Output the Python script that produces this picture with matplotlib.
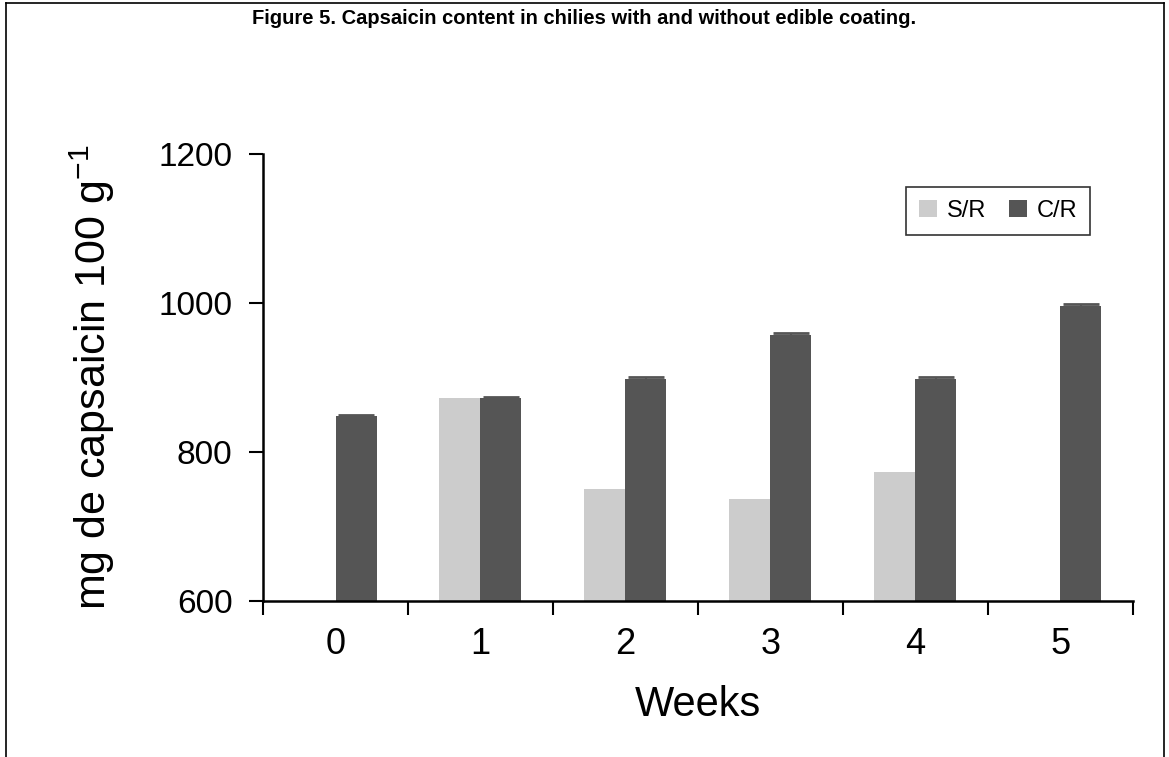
import numpy as np
import matplotlib.pyplot as plt
from matplotlib.lines import Line2D
from matplotlib.ticker import FixedLocator

plt.rcParams['font.family'] = ['Liberation Sans', 'DejaVu Sans']
plt.rcParams['mathtext.default'] = 'regular'

weeks = [0, 1, 2, 3, 4, 5]
sr_values = [np.nan, 872, 750, 737, 773, np.nan]   # S/R, uncoated
cr_values = [848, 872, 898, 957, 898, 996]         # C/R, coated
cr_err = [2, 2, 2, 3, 3, 2]

x = np.arange(len(weeks))
w = 0.283

fig = plt.figure(figsize=(11.69, 7.57), dpi=100)
ax = fig.add_axes([0.225, 0.206, 0.744, 0.591])

sr = np.array(sr_values, dtype=float)
ok = ~np.isnan(sr)
ax.bar(x[ok] - w / 2, sr[ok], w, color='#cccccc', label='S/R')
ax.bar(x + w / 2, cr_values, w, color='#555555', label='C/R',
       yerr=cr_err, error_kw=dict(ecolor='#555555', capsize=13, elinewidth=1.5, capthick=2))

ax.set_ylim(600, 1200)
ax.set_yticks([600, 800, 1000, 1200])
ax.set_xlim(-0.5, 5.5)
ax.set_xticks(x)
ax.set_xticklabels([str(v) for v in weeks])
ax.xaxis.set_minor_locator(FixedLocator(np.arange(-0.5, 6, 1)))
ax.tick_params(axis='x', which='major', length=0, labelsize=26, pad=19)
ax.tick_params(axis='x', which='minor', length=10, width=1.5, direction='out')
ax.tick_params(axis='y', length=10, width=1.5, direction='out', labelsize=24, pad=12)

for s in ['top', 'right']:
    ax.spines[s].set_visible(False)
for s in ['left', 'bottom']:
    ax.spines[s].set_linewidth(1.8)

ax.set_ylabel('mg de capsaicin 100 g$^{-1}$', fontsize=31, labelpad=30)
ax.set_xlabel('Weeks', fontsize=30, labelpad=16)

leg = ax.legend(loc='upper right', bbox_to_anchor=(0.951, 0.926), ncol=2, fontsize=17,
                frameon=True, fancybox=False, edgecolor='black', handlelength=0.75,
                handleheight=0.75, columnspacing=1.0, handletextpad=0.4,
                borderpad=0.55, borderaxespad=0)
leg.get_frame().set_linewidth(1.2)

fig.text(0.5, 1 - 18 / 757,
         'Figure 5. Capsaicin content in chilies with and without edible coating.',
         fontsize=14.5, fontweight='bold', ha='center', va='center')

# border around the figure on three sides
for xs, ys in [([0.005, 0.005], [0, 0.996]), ([0.005, 0.996], [0.996, 0.996]),
               ([0.996, 0.996], [0, 0.996])]:
    fig.add_artist(Line2D(xs, ys, color='black', lw=1.2, transform=fig.transFigure))

fig.savefig('out.png', dpi=100)
